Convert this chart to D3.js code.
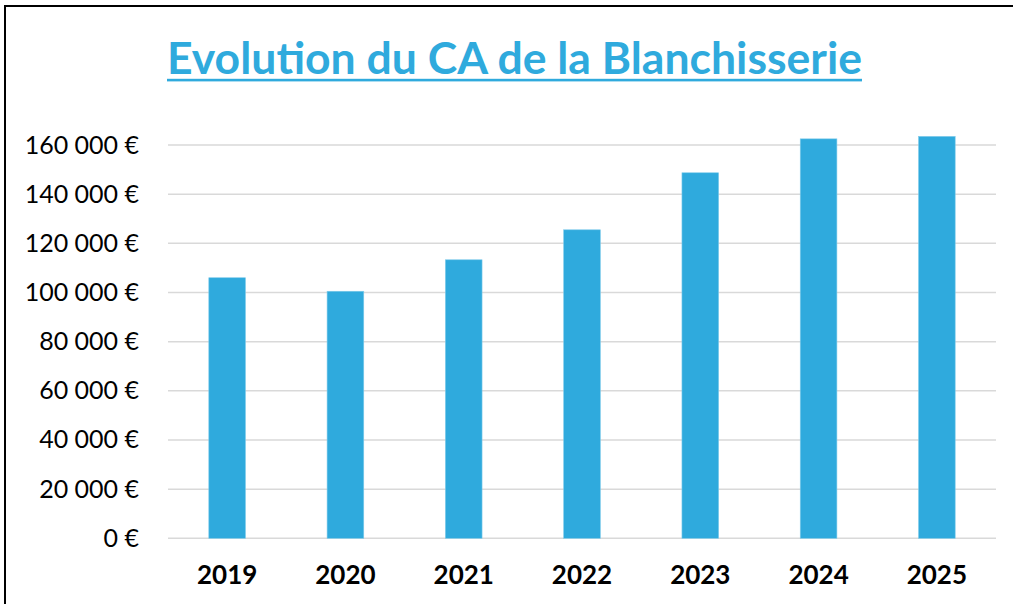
<!DOCTYPE html>
<html>
<head>
<meta charset="utf-8">
<script src="https://cdn.jsdelivr.net/npm/d3@7"></script>
<style>
  body { margin: 0; background: #fff; }
  svg { display: block; }
</style>
</head>
<body>
<div id="chart"></div>
<script>
// Chart data
const years = ["2019", "2020", "2021", "2022", "2023", "2024", "2025"];
const revenue = [106000, 100500, 113300, 125500, 148700, 162500, 163500];
const yTicks = [0, 20000, 40000, 60000, 80000, 100000, 120000, 140000, 160000];
const chartTitle = "Evolution du CA de la Blanchisserie";

const W = 1013, H = 604;
const margin = { top: 145, right: 17, bottom: 66, left: 168 };
const innerW = W - margin.left - margin.right;
const y0 = 538.3, y160 = 145;

const svg = d3.select("#chart")
    .append("svg")
    .attr("width", W)
    .attr("height", H);

// Frame (only top and left edges are visible)
svg.append("path")
    .attr("d", `M5,${H} L5,6 L${W},6`)
    .attr("fill", "none")
    .attr("stroke", "#000")
    .attr("stroke-width", 2);

// Title with underline
svg.append("text")
    .attr("x", 514.5)
    .attr("y", 74)
    .attr("text-anchor", "middle")
    .attr("font-family", "Lato, sans-serif")
    .attr("font-weight", "bold")
    .attr("font-size", 43)
    .attr("fill", "#2FAADD")
    .attr("textLength", 695)
    .attr("lengthAdjust", "spacingAndGlyphs")
    .text(chartTitle);

svg.append("rect")
    .attr("x", 167)
    .attr("y", 78.8)
    .attr("width", 695)
    .attr("height", 2.6)
    .attr("fill", "#2FAADD");

// Scales
const x = d3.scaleBand()
    .domain(years)
    .range([margin.left, margin.left + innerW])
    .paddingInner(0.69)
    .paddingOuter(0.345);

const y = d3.scaleLinear()
    .domain([0, 160000])
    .range([y0, y160]);

const fmt = v => d3.format(",")(v).replace(/,/g, " ") + " €";

// Gridlines
svg.append("g")
    .selectAll("line")
    .data(yTicks)
    .enter()
    .append("line")
    .attr("x1", margin.left)
    .attr("x2", margin.left + innerW)
    .attr("y1", d => y(d))
    .attr("y2", d => y(d))
    .attr("stroke", "#d9d9d9")
    .attr("stroke-width", 1.5);

// Y axis labels
const yAxis = svg.append("g")
    .attr("transform", `translate(${margin.left},0)`)
    .call(d3.axisLeft(y).tickValues(yTicks).tickFormat(fmt).tickSize(0).tickPadding(29));

yAxis.select(".domain").remove();
yAxis.selectAll("text")
    .attr("font-family", "Lato, sans-serif")
    .attr("font-size", 25)
    .attr("fill", "#000");

// Bars
svg.append("g")
    .selectAll("rect")
    .data(years)
    .enter()
    .append("rect")
    .attr("x", d => x(d))
    .attr("y", (d, i) => y(revenue[i]))
    .attr("width", x.bandwidth())
    .attr("height", (d, i) => y(0) - y(revenue[i]))
    .attr("fill", "#2FAADD")
    .attr("stroke", "#7fcbea")
    .attr("stroke-width", 0.6);

// X axis labels
const xAxis = svg.append("g")
    .attr("transform", `translate(0,${y0})`)
    .call(d3.axisBottom(x).tickSize(0).tickPadding(27));

xAxis.select(".domain").remove();
xAxis.selectAll("text")
    .attr("font-family", "Lato, sans-serif")
    .attr("font-weight", "bold")
    .attr("font-size", 26)
    .attr("fill", "#000");
</script>
</body>
</html>
